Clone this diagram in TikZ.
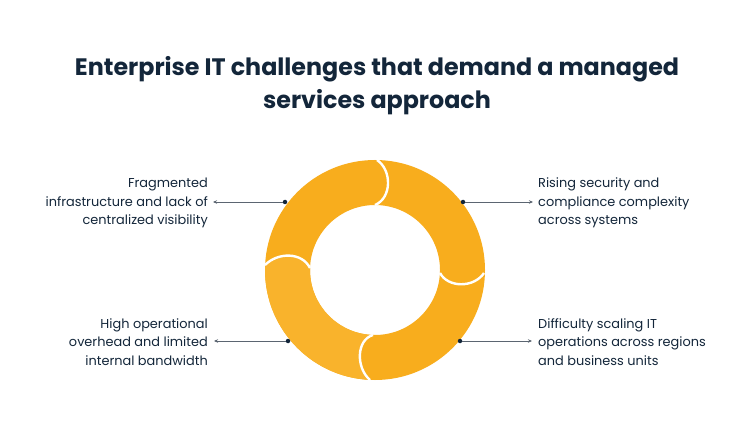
\documentclass[tikz,border=0pt]{standalone}
\usepackage{fontspec}
\setmainfont{Poppins}
\usetikzlibrary{arrows.meta}
\definecolor{ttl}{HTML}{13263A}
\definecolor{ring}{HTML}{F8AD1D}
\definecolor{ringl}{HTML}{F9B32C}
\definecolor{ln}{HTML}{5B6571}
\begin{document}
\begin{tikzpicture}[x=1pt,y=-1pt,
  lbl/.style={font=\fontsize{12.9}{18.5}\selectfont,text=ttl,inner sep=0pt},
  con/.style={ln,line width=0.8pt,-{Stealth[length=4pt,width=3.5pt]}},
  dot/.style={circle,fill=ttl,inner sep=0pt,minimum size=4.5pt},
  sep/.style={white,line width=2.4pt}]
\useasboundingbox[fill=white] (0,0) rectangle (754,446);
\node[font=\bfseries\fontsize{23.8}{33}\selectfont,text=ttl,align=center] (title) at (377,86) {Enterprise IT challenges that demand a managed\\services approach};
% ring
\fill[ring,even odd rule] (375,270) circle[radius=110] (375,270) circle[radius=65];
\begin{scope}[even odd rule]
\clip (375,270) circle[radius=110] (375,270) circle[radius=65];
\fill[ringl] (375,270) -- (310,268) .. controls (302,252) and (278,252) .. (265,265) -- (240,265) -- (240,400) -- (370,400) -- (370,380) .. controls (356,368) and (356,340) .. (373,335) -- cycle;
\end{scope}
\draw[sep] (377,160) .. controls (392,170) and (392,198) .. (375,205);
\draw[sep] (484,273) .. controls (474,288) and (448,288) .. (440,273);
\draw[sep] (370,380) .. controls (356,368) and (356,340) .. (373,335);
\draw[sep] (265,265) .. controls (278,252) and (302,252) .. (310,268);
% connectors
\node[dot] (d1) at (285,202) {};
\node[dot] (d2) at (463,202) {};
\node[dot] (d3) at (288,341) {};
\node[dot] (d4) at (460,341) {};
\coordinate (e1) at (213,202);
\coordinate (e2) at (533,202);
\coordinate (e3) at (214,341);
\coordinate (e4) at (532,341);
\draw[con] (d1) -- (e1);
\draw[con] (d2) -- (e2);
\draw[con] (d3) -- (e3);
\draw[con] (d4) -- (e4);
\node[lbl,anchor=east,align=right] (t1) at (208,203) {Fragmented\\infrastructure and lack of\\centralized visibility};
\node[lbl,anchor=west,align=left] (t2) at (538,203) {Rising security and\\compliance complexity\\across systems};
\node[lbl,anchor=east,align=right] (t3) at (208,342) {High operational\\overhead and limited\\internal bandwidth};
\node[lbl,anchor=west,align=left] (t4) at (538,342) {Difficulty scaling IT\\operations across regions\\and business units};
\end{tikzpicture}
\end{document}
